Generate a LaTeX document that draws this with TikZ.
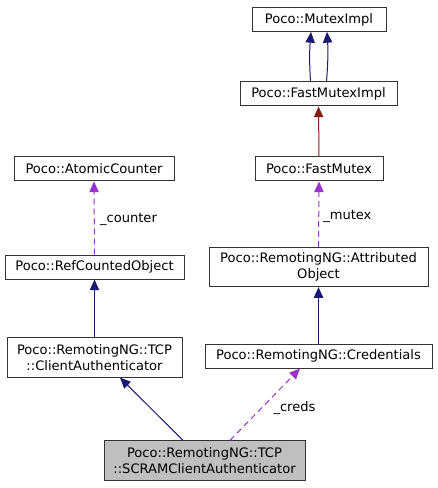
\documentclass[tikz,border=0pt]{standalone}
\usepackage{fontspec}
\setmainfont{DejaVu Sans}
\usetikzlibrary{arrows.meta, positioning}
\definecolor{cnavy}{HTML}{191970}
\definecolor{cred}{HTML}{8B1A1A}
\definecolor{cpurple}{HTML}{9A32CD}
\definecolor{cgrey}{HTML}{BFBFBF}
\tikzset{
  every picture/.style={x=0.75pt, y=-0.75pt, line width=0.75pt},
  cls/.style={draw=black!80, fill=white, align=center, inner sep=2pt, minimum width=#1*0.75pt, minimum height=18pt,
    font=\fontsize{9.8}{12}\selectfont},
  cls2/.style={cls=#1, minimum height=29.5pt},
  inherit/.style={-{Triangle[length=8pt, width=7pt]}, draw=cnavy},
  privinh/.style={-{Triangle[length=8pt, width=7pt]}, draw=cred},
  member/.style={-{Triangle[length=8pt, width=7pt]}, draw=cpurple, dash pattern=on 4.5pt off 3pt},
  lbl/.style={font=\fontsize{9.8}{12}\selectfont, anchor=west, inner sep=0pt},
}
\begin{document}
\begin{tikzpicture}
  \useasboundingbox (0,0) rectangle (437,488);

  % ---- right column
  \node[cls=134] (mi)  at (319,19.5)  {Poco::MutexImpl};
  \node[cls=157] (fmi) at (318.5,94)  {Poco::FastMutexImpl};
  \node[cls=128] (fm)  at (319,169)   {Poco::FastMutex};
  \node[cls2=219] (ao) at (318.5,267) {Poco::RemotingNG::Attributed\\Object};
  \node[cls=227] (cr)  at (318.5,356) {Poco::RemotingNG::Credentials};

  % ---- left column
  \node[cls=160] (ac)  at (94,169)    {Poco::AtomicCounter};
  \node[cls=179] (rco) at (94.5,267)  {Poco::RefCountedObject};
  \node[cls2=175] (ca) at (94.5,357.5) {Poco::RemotingNG::TCP\\::ClientAuthenticator};

  % ---- the class itself
  \node[cls2=201, fill=cgrey] (scram) at (204.5,460.5) {Poco::RemotingNG::TCP\\::SCRAMClientAuthenticator};

  % inheritance
  \draw[inherit] ([xshift=-6pt]fmi.north) to[bend left=4] ([xshift=-6pt]mi.south);
  \draw[inherit] ([xshift=6pt]fmi.north) to[bend right=4] ([xshift=6pt]mi.south);
  \draw[privinh] (fm.north) -- (fmi.south);
  \draw[inherit] (cr.north) -- (ao.south);
  \draw[inherit] (ca.north) -- (rco.south);
  \draw[inherit] (scram.north -| 183,0) -- (ca.south -| 120,0);

  % members
  \draw[member] (ao.north) -- node[lbl, right=3pt, yshift=-2pt] {\_mutex} (fm.south);
  \draw[member] (rco.north) -- node[lbl, right=4pt, yshift=-1pt] {\_counter} (ac.south);
  \draw[member] (scram.north -| 230,0) -- node[lbl, right=6pt, yshift=-3pt] {\_creds} (cr.south -| 300,0);
\end{tikzpicture}
\end{document}
